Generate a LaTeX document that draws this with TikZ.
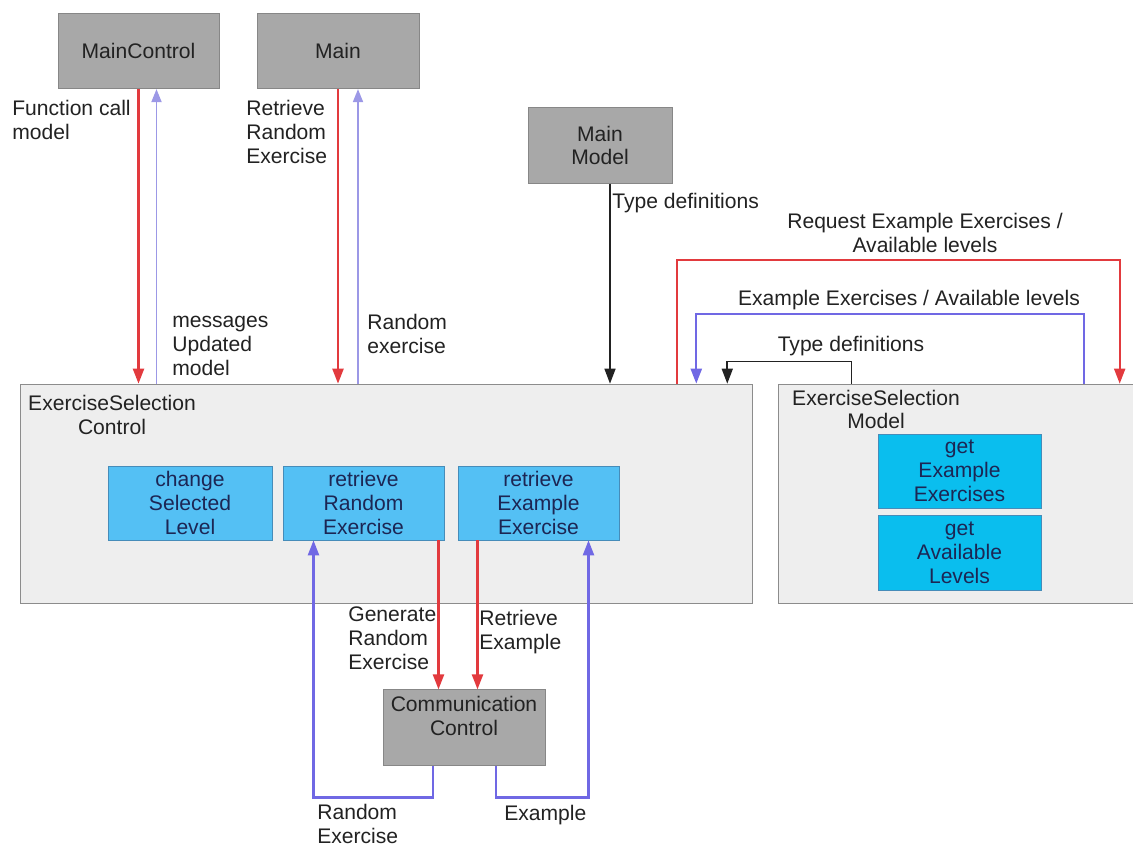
\documentclass[tikz,border=0pt]{standalone}
\usepackage{fontspec}
\setmainfont{Liberation Sans}
\usetikzlibrary{arrows.meta,calc}

\definecolor{blockgray}{RGB}{168,168,168}
\definecolor{blockedge}{RGB}{135,135,135}
\definecolor{panelgray}{RGB}{238,238,238}
\definecolor{paneledge}{RGB}{140,140,140}
\definecolor{funcblue}{RGB}{84,192,244}
\definecolor{getblue}{RGB}{10,190,238}
\definecolor{funcedge}{RGB}{70,140,185}
\definecolor{funcink}{RGB}{28,38,84}
\definecolor{ink}{RGB}{34,34,34}
\definecolor{callred}{RGB}{226,58,62}
\definecolor{retblue}{RGB}{112,104,228}
\definecolor{retlight}{RGB}{156,152,230}

\begin{document}
\begin{tikzpicture}[
  x=0.02cm, y=-0.02cm,
  font=\fontsize{12}{13.6}\selectfont,
  block/.style={draw=blockedge, fill=blockgray, text=ink, align=center, inner sep=0pt, minimum width=#1, minimum height=1.51cm},
  block/.default=3.22cm,
  panel/.style={draw=paneledge, fill=panelgray, inner sep=0pt, minimum width=#1, minimum height=4.38cm},
  func/.style={draw=funcedge, fill=funcblue, text=funcink, align=center, inner sep=0pt, minimum width=3.22cm, minimum height=1.48cm},
  getter/.style={func, fill=getblue, minimum width=3.26cm},
  lbl/.style={text=ink, align=left, inner sep=0pt, anchor=west},
  call/.style={-{Triangle[length=3mm, width=2.2mm]}, draw=callred, line width=1.3pt},
  ret/.style={-{Triangle[length=2.6mm, width=2mm]}, draw=retlight, line width=1pt, color=retlight},
  reply/.style={-{Triangle[length=3mm, width=2.2mm]}, draw=retblue, line width=1.3pt, color=retblue},
  req/.style={-{Triangle[length=3mm, width=2.2mm]}, draw=callred, line width=1.1pt, color=callred},
  deftype/.style={-{Triangle[length=3mm, width=2.2mm]}, draw=ink, line width=0.9pt}
]
\useasboundingbox (0,0) rectangle (1133,848);
\clip (0,0) rectangle (1133,848);

% top level blocks
\node[block] (mc) at (138.5,51) {MainControl};
\node[block=3.24cm] (main) at (338,51) {Main};
\node[block=2.88cm] (mm) at (600,145.5) {Main\\Model};

% the two panels
\node[panel=14.64cm] (esc) at (386,493.5) {};
\node[text=ink, align=center, inner sep=0pt] (esctitle) at (112,415) {ExerciseSelection\\Control};
\node[panel=7.44cm] (esm) at (964,493.5) {};
\node[text=ink, align=center, inner sep=0pt] (esmtitle) at (876,409.5) {ExerciseSelection\\Model};

% functions inside the panels
\node[func, minimum width=3.28cm] (csl) at (190,503) {change\\Selected\\Level};
\node[func] (rre) at (363.5,503) {retrieve\\Random\\Exercise};
\node[func] (rxe) at (538.5,503) {retrieve\\Example\\Exercise};
\node[getter] (gee) at (959.5,471) {get\\Example\\Exercises};
\node[getter, minimum height=1.5cm] (gal) at (959.5,552.5) {get\\Available\\Levels};

\node[block=3.24cm] (cc) at (464,727.5) {Communication\\Control\\\mbox{}};

% calls and answers
\draw[call] (mc.south) -- (mc.south |- esc.north);
\draw[ret] ($(esc.north -| mc.south)+(18,0)$) -- ($(mc.south)+(18,0)$);
\draw[call] (main.south) -- (main.south |- esc.north);
\draw[ret] ($(esc.north -| main.south)+(20,0)$) -- ($(main.south)+(20,0)$);
\draw[deftype] ($(mm.south)+(10,0)$) -- ($(esc.north -| mm.south)+(10,0)$);

\draw[req] ($(esc.north east)+(-75,0)$) |- ($(esm.north west)+(342,-124)$) -- ($(esm.north west)+(342,0)$);
\draw[reply] ($(esm.north west)+(306,0)$) |- ($(esc.north east)+(-56,-70)$) -- ($(esc.north east)+(-56,0)$);
\draw[deftype] ($(esm.north west)+(74,0)$) |- ($(esc.north east)+(-25,-22)$) -- ($(esc.north east)+(-25,0)$);

\draw[call] ($(rre.south)+(75,0)$) -- ($(cc.north -| rre.south)+(75,0)$);
\draw[call] ($(rxe.south)+(-61,0)$) -- ($(cc.north -| rxe.south)+(-61,0)$);
\draw[reply] ($(cc.south)+(-31,0)$) -- ++(0,32) -| ($(rre.south)+(-50,0)$);
\draw[reply] ($(cc.south)+(32,0)$) -- ++(0,32) -| ($(rxe.south)+(50,0)$);

% labels
\node[lbl] (lfcall) at (12,120) {Function call\\model};
\node[lbl] (lretr) at (246,132) {Retrieve\\Random\\Exercise};
\node[lbl] (lmsg) at (172,346) {messages\\Updated\\model};
\node[lbl] (lrand) at (367,334) {Random\\exercise};
\node[lbl] (ltype) at (612,203) {Type definitions};
\node[text=ink, align=center, inner sep=0pt] (lreq) at (925,233) {Request Example Exercises /\\Available levels};
\node[text=ink, inner sep=0pt] (lexm) at (909,300) {Example Exercises / Available levels};
\node[text=ink, inner sep=0pt] (ltype2) at (851,346) {Type definitions};
\node[lbl] (lgen) at (348,638) {Generate\\Random\\Exercise};
\node[lbl] (lrex) at (479,632) {Retrieve\\Example};
\node[lbl] (lrnd) at (317,824) {Random\\Exercise};
\node[lbl] (lex) at (504,815) {Example};
\end{tikzpicture}
\end{document}
